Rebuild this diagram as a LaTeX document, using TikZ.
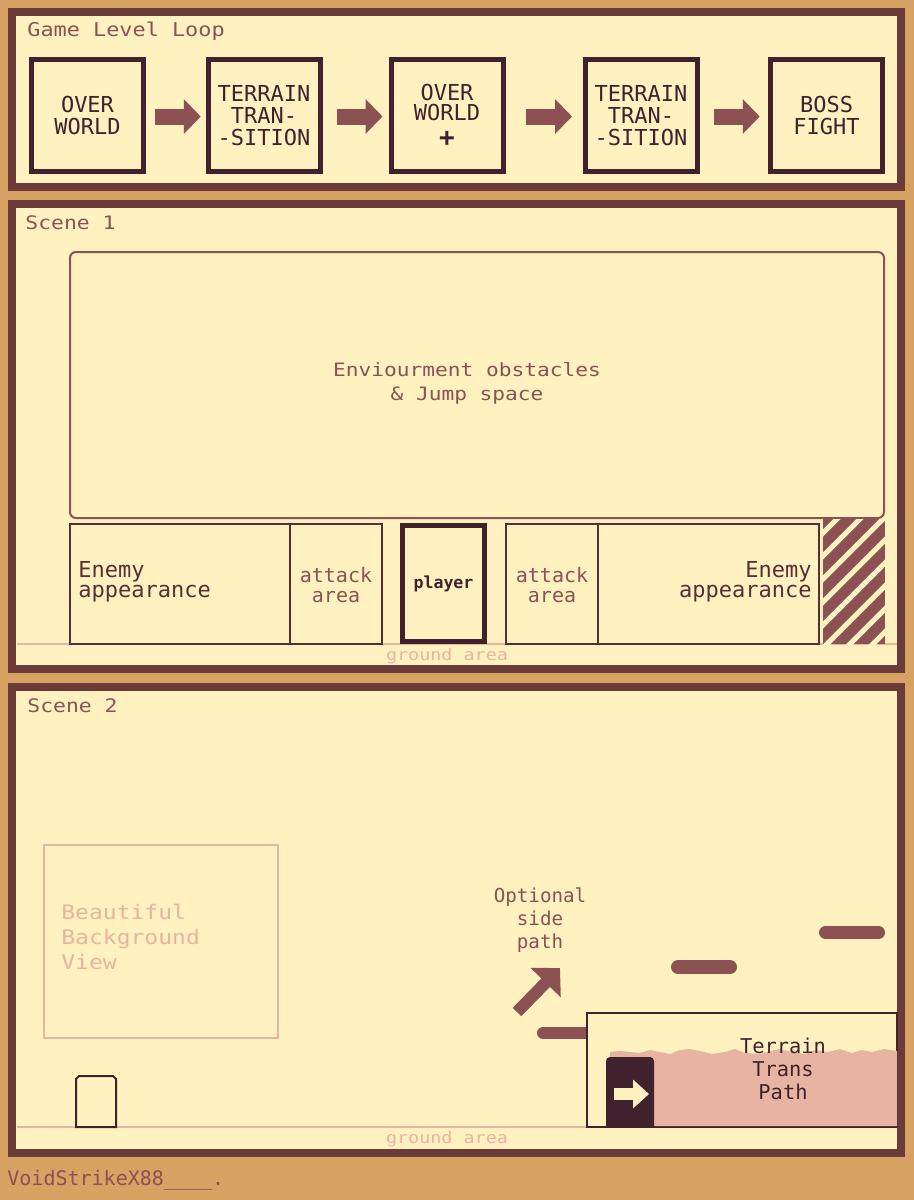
\documentclass[tikz,border=0pt]{standalone}
\usepackage{fontspec}
\usetikzlibrary{arrows.meta,calc}
\newfontfamily\pix[FakeStretch=1.15]{DejaVu Sans Mono}
\newfontfamily\pixn{DejaVu Sans Mono}
\definecolor{bgor}{HTML}{D8A262}
\definecolor{panel}{HTML}{6B3B3A}
\definecolor{cream}{HTML}{FFF2C0}
\definecolor{dark}{HTML}{42212F}
\definecolor{mid}{HTML}{8B5153}
\definecolor{pinkc}{HTML}{E8B4A2}
\definecolor{edge}{HTML}{5A2E36}
\tikzset{
  panelbox/.style={fill=cream, draw=panel, line width=4pt},
  loopbox/.style={draw=dark, line width=2.5pt, fill=cream, minimum width=56pt, minimum height=56pt,
    inner sep=0pt, align=center, text=dark, font=\pixn\fontsize{11}{11}\selectfont},
  flowarrow/.style={draw=mid, line width=8pt, -{Triangle[length=8.5pt,width=17pt]}},
  scenelbl/.style={anchor=west, text=mid, inner sep=0pt, font=\pix\fontsize{9.3}{11}\selectfont},
  rowbox/.style={draw=edge, line width=1pt, fill=cream, minimum height=60pt, inner sep=0pt},
  enemytxt/.style={text=edge, font=\pixn\fontsize{11}{10}\selectfont},
  attacktxt/.style={text=mid, align=center, font=\pixn\fontsize{10}{10}\selectfont},
  groundtxt/.style={text=pinkc, inner sep=0pt, font=\pix\fontsize{8}{8}\selectfont},
  groundline/.style={draw=pinkc, line width=1pt},
  platform/.style={draw=mid, line cap=round},
}
\begin{document}
\begin{tikzpicture}[x=0.5pt,y=-0.5pt]
\useasboundingbox (0,0) rectangle (914,1200);
\fill[bgor] (0,0) rectangle (914,1200);

% panels
\draw[panelbox] (12,12) rectangle (901,187);
\draw[panelbox] (12,204) rectangle (901,669);
\draw[panelbox] (12,687) rectangle (901,1153);

% ---------- Game level loop ----------
\node[anchor=west, text=mid, inner sep=0pt, font=\pix\fontsize{9.5}{11}\selectfont] (title) at (27,31) {Game Level Loop};
\node[loopbox] (b1) at (87.5,115.5) {OVER\\WORLD};
\node[loopbox] (b2) at (264,115.5) {TERRAIN\\TRAN-\\-SITION};
\node[loopbox, font=\pixn\fontsize{11}{10}\selectfont] (b3) at (447,115.5) {OVER\\WORLD\\[3pt]{\fontsize{13}{10}\selectfont\bfseries +}};
\node[loopbox] (b4) at (641,115.5) {TERRAIN\\TRAN-\\-SITION};
\node[loopbox] (b5) at (826.5,115.5) {BOSS\\FIGHT};
\draw[flowarrow] ($(b1.east)!0.5!(b2.west)+(-21,1)$) -- ++(46,0);
\draw[flowarrow] ($(b2.east)!0.5!(b3.west)+(-19,1)$) -- ++(46,0);
\draw[flowarrow] ($(b3.east)!0.5!(b4.west)+(-18,1)$) -- ++(46,0);
\draw[flowarrow] ($(b4.east)!0.5!(b5.west)+(-20,1)$) -- ++(46,0);

% ---------- Scene 1 ----------
\node[scenelbl] (s1) at (25,223) {Scene 1};
\node[draw=mid, line width=1pt, rounded corners=3pt, minimum width=407pt, minimum height=133pt, inner sep=0pt] (env) at (477,385) {};
\node[text=mid, align=center, font=\pix\fontsize{9.2}{12}\selectfont] (envt) at (467,383) {Enviourment obstacles\\\& Jump space};

\draw[groundline] (17,644) -- (897,644);
\node[groundtxt] (g1) at (447,656) {ground area};

\node[rowbox, minimum width=110pt] (enemyL) at (180,583.5) {};
\node[rowbox, minimum width=46pt] (attackL) at (336,583.5) {};
\node[draw=dark, line width=2.5pt, fill=cream, minimum width=41pt, minimum height=58pt, inner sep=0pt,
      text=dark, font=\pixn\bfseries\fontsize{8.3}{9}\selectfont] (player) at (443.5,583.5) {player};
\node[rowbox, minimum width=46pt] (attackR) at (552,583.5) {};
\node[rowbox, minimum width=110.5pt] (enemyR) at (708.5,583.5) {};

\node[enemytxt, anchor=west, align=left, inner sep=0pt] (enemyLt) at (78,582) {Enemy\\appearance};
\node[enemytxt, anchor=east, align=right, inner sep=0pt] (enemyRt) at (812,582) {Enemy\\appearance};
\node[attacktxt] (attackLt) at (336,585) {attack\\area};
\node[attacktxt] (attackRt) at (552,585) {attack\\area};

% hatched block
\begin{scope}
\clip (823,519) rectangle (885,644);
\fill[mid] (823,519) rectangle (885,644);
\foreach \k in {-140,-117,...,80} {
  \draw[cream, line width=2.6pt] ({823+\k},650) -- ++(160,-160);
}
\end{scope}

% ---------- Scene 2 ----------
\node[scenelbl] (s2) at (27,706) {Scene 2};

\node[draw=pinkc, line width=1pt, minimum width=117pt, minimum height=96.5pt, inner sep=0pt] (view) at (161,941.5) {};
\node[anchor=west, align=left, text=pinkc, inner sep=0pt, font=\pix\fontsize{10}{12.5}\selectfont] (viewt) at (61,937) {Beautiful\\Background\\View};

\draw[groundline] (17,1127) -- (897,1127);
\node[groundtxt] (g2) at (447,1139) {ground area};

% small player
\filldraw[fill=cream, draw=dark, line width=1pt] (76,1127) -- (76,1079) -- (79,1076) -- (113,1076) -- (116,1079) -- (116,1127) -- cycle;

% optional side path
\node[text=mid, align=center, font=\pixn\fontsize{9.6}{11.5}\selectfont] (opt) at (540,920) {Optional\\side\\path};
\coordinate (optTail) at (517,1012);
\coordinate (optHead) at (560,968);
\draw[mid, line width=6pt, -{Triangle[length=10.25pt,width=20.5pt]}] (optTail) -- (optHead);

% platforms
\draw[platform, line width=6pt] (543,1033) -- (600,1033);
\draw[platform, line width=7pt] (678,967) -- (730,967);
\draw[platform, line width=6.5pt] (825.5,932.5) -- (878.5,932.5);

% terrain trans path
\node[draw=dark, fill=cream, line width=1pt, minimum width=155pt, minimum height=57pt, inner sep=0pt] (ttp) at (742,1070) {};
\fill[pinkc] (610,1126) -- (610,1052) -- (620,1051) -- (630,1052) -- (640,1053) -- (650,1050) -- (660,1052)
  -- (670,1054) -- (680,1050) -- (690,1049) -- (700,1051) -- (712,1054) -- (725,1052) -- (735,1049)
  -- (745,1053) -- (760,1054) -- (770,1051) -- (780,1049) -- (792,1052) -- (805,1054) -- (815,1050)
  -- (828,1052) -- (840,1049) -- (852,1053) -- (862,1050) -- (872,1052) -- (884,1049) -- (897,1051)
  -- (897,1126) -- cycle;
\fill[dark] (606,1127) [rounded corners=2pt] -- (606,1057) -- (654,1057) [sharp corners] -- (654,1127) -- cycle;
\coordinate (doorA) at (614,1094);
\coordinate (doorB) at (649,1094);
\draw[cream, line width=6pt, -{Triangle[length=8pt,width=14pt]}] (doorA) -- (doorB);
\node[text=dark, align=center, font=\pixn\fontsize{10.2}{11.5}\selectfont] (ttpt) at (783,1069) {Terrain\\Trans\\Path};

% signature
\node[anchor=west, text=mid, inner sep=0pt, font=\pixn\fontsize{10}{10}\selectfont] (sig) at (7,1180) {VoidStrikeX88\_\_\_\_.};
\end{tikzpicture}
\end{document}
